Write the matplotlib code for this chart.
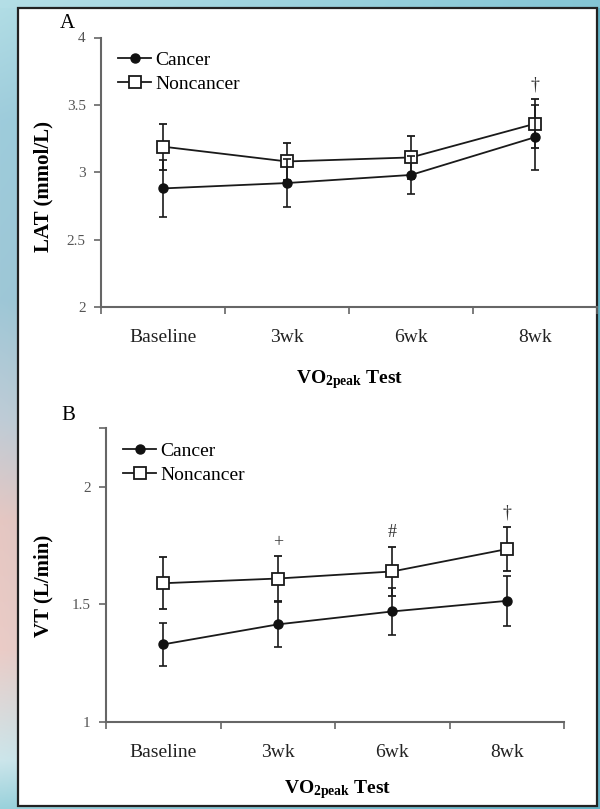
import numpy as np
import matplotlib
matplotlib.use('Agg')  # no display
import matplotlib.pyplot as plt
from matplotlib.patches import Rectangle

plt.rcParams['font.family'] = ['Liberation Serif', 'DejaVu Serif']
plt.rcParams['mathtext.fontset'] = 'custom'
plt.rcParams['mathtext.rm'] = 'Liberation Serif'
plt.rcParams['mathtext.bf'] = 'Liberation Serif:bold'

tests = ['Baseline', '3wk', '6wk', '8wk']

# panel A: lactate threshold (mmol/L), mean and SD
lat_cancer = [2.88, 2.92, 2.98, 3.26]
lat_cancer_sd = [0.21, 0.18, 0.14, 0.24]
lat_noncancer = [3.19, 3.08, 3.11, 3.36]
lat_noncancer_sd = [0.17, 0.135, 0.16, 0.18]
lat_marks = ['', '', '', '\u2020']

# panel B: ventilatory threshold (L/min), mean and SD
vt_cancer = [1.33, 1.415, 1.47, 1.515]
vt_cancer_sd = [0.09, 0.095, 0.10, 0.105]
vt_noncancer = [1.59, 1.61, 1.64, 1.735]
vt_noncancer_sd = [0.11, 0.095, 0.105, 0.095]
vt_marks = ['', '+', '#', '\u2020']

W, H = 600, 809


def fx(px):
    return px / W


def fy(py):
    return 1 - py / H


def draw_panel(ax, cancer, cancer_sd, noncancer, noncancer_sd, marks,
               ylim, yticks, yticklabels, xmax, legend_xy):
    x = np.arange(len(tests))
    hn = ax.errorbar(x, noncancer, yerr=noncancer_sd, color='#1a1a1a', lw=1.3,
                     elinewidth=1.2, capsize=3, capthick=1.2, marker='s', ms=8,
                     mfc='white', mec='#1a1a1a', mew=1.3, zorder=3)
    hc = ax.errorbar(x, cancer, yerr=cancer_sd, color='#1a1a1a', lw=1.3,
                     elinewidth=1.2, capsize=3, capthick=1.2, marker='o', ms=6.5,
                     mfc='#111111', mec='#111111', zorder=4)
    for i, m in enumerate(marks):
        if m:
            ax.annotate(m, (x[i], noncancer[i] + noncancer_sd[i]), xytext=(0, 4),
                        textcoords='offset points', ha='center', va='bottom',
                        fontsize=13, color='#333333')

    ax.set_xlim(-0.5, xmax)
    ax.set_ylim(*ylim)
    ax.set_facecolor('none')
    for s in ['top', 'right']:
        ax.spines[s].set_visible(False)
    for s in ['left', 'bottom']:
        ax.spines[s].set_color('#666666')
        ax.spines[s].set_linewidth(1.5)

    ax.set_xticks(np.arange(-0.5, 4, 1))
    ax.set_xticklabels([])
    ax.set_xticks(x, minor=True)
    ax.set_xticklabels(tests, minor=True)
    ax.tick_params(axis='x', which='major', direction='out', length=5,
                   width=1.2, color='#666666')
    ax.tick_params(axis='x', which='minor', length=0, pad=16, labelsize=14,
                   labelcolor='#222222')
    ax.set_yticks(yticks)
    ax.set_yticklabels(yticklabels)
    ax.tick_params(axis='y', direction='out', length=5, width=1.2,
                   color='#666666', pad=6, labelsize=11, labelcolor='#555555')

    ax.legend([hc[0], hn[0]], ['Cancer', 'Noncancer'], loc='upper left',
              bbox_to_anchor=(fx(legend_xy[0]), fy(legend_xy[1])),
              bbox_transform=ax.figure.transFigure, frameon=False, fontsize=14,
              handlelength=1.7, handletextpad=0.2, labelspacing=0.35,
              borderpad=0, borderaxespad=0, numpoints=1)


fig = plt.figure(figsize=(W / 100, H / 100), dpi=100)

# teal / pink backdrop around the white panel
stops_y = [0, 120, 300, 420, 520, 650, 760, 809]
left_cols = np.array([
    [0.70, 0.87, 0.90],
    [0.62, 0.80, 0.86],
    [0.62, 0.78, 0.84],
    [0.75, 0.80, 0.84],
    [0.90, 0.78, 0.76],
    [0.92, 0.80, 0.78],
    [0.80, 0.90, 0.92],
    [0.60, 0.82, 0.86],
])
rows = np.arange(H)
left = np.stack([np.interp(rows, stops_y, left_cols[:, c]) for c in range(3)], axis=1)
right = np.array([0.38, 0.70, 0.78])
w = (np.arange(W) / (W - 1))[None, :, None]
bg = left[:, None, :] * (1 - w) + right[None, None, :] * w
bg[:8, :, :] = bg[:8, :, :] * 0.6 + np.array([0.72, 0.88, 0.91]) * 0.4
fig.figimage(bg, xo=0, yo=0, origin='upper', zorder=-10)

fig.patches.append(Rectangle((fx(18), fy(806)), fx(597) - fx(18), fy(8) - fy(806),
                             transform=fig.transFigure, facecolor='white',
                             edgecolor='#222222', lw=1.6, zorder=-5))

ax_a = fig.add_axes([fx(101), fy(307), fx(597) - fx(101), fy(37.5) - fy(307)])
draw_panel(ax_a, lat_cancer, lat_cancer_sd, lat_noncancer, lat_noncancer_sd,
           lat_marks, (2, 4), [2, 2.5, 3, 3.5, 4], ['2', '2.5', '3', '3.5', '4'],
           -0.5 + 496 / 126, (118, 51))

ax_b = fig.add_axes([fx(106), fy(722), fx(564) - fx(106), fy(428) - fy(722)])
draw_panel(ax_b, vt_cancer, vt_cancer_sd, vt_noncancer, vt_noncancer_sd,
           vt_marks, (1, 2.25), [1, 1.5, 2], ['1', '1.5', '2'], 3.5, (123, 442))
ax_b.set_yticks([2.25], minor=True)
ax_b.tick_params(axis='y', which='minor', direction='out', length=5, width=1.2,
                 color='#666666')

fig.text(fx(67), fy(23), 'A', fontsize=15, ha='center', va='center')
fig.text(fx(68), fy(416), 'B', fontsize=15, ha='center', va='center')

fig.text(fx(43), fy(186), 'LAT (mmol/L)', rotation=90, fontsize=15,
         fontweight='bold', ha='center', va='center')
fig.text(fx(43), fy(586), 'VT (L/min)', rotation=90, fontsize=15,
         fontweight='bold', ha='center', va='center')

fig.text(fx(350), fy(380), r'$\mathbf{VO_{2peak}}$ Test', fontsize=14,
         fontweight='bold', ha='center', va='center')
fig.text(fx(338), fy(790), r'$\mathbf{VO_{2peak}}$ Test', fontsize=14,
         fontweight='bold', ha='center', va='center')

fig.savefig('out.png', dpi=100)
